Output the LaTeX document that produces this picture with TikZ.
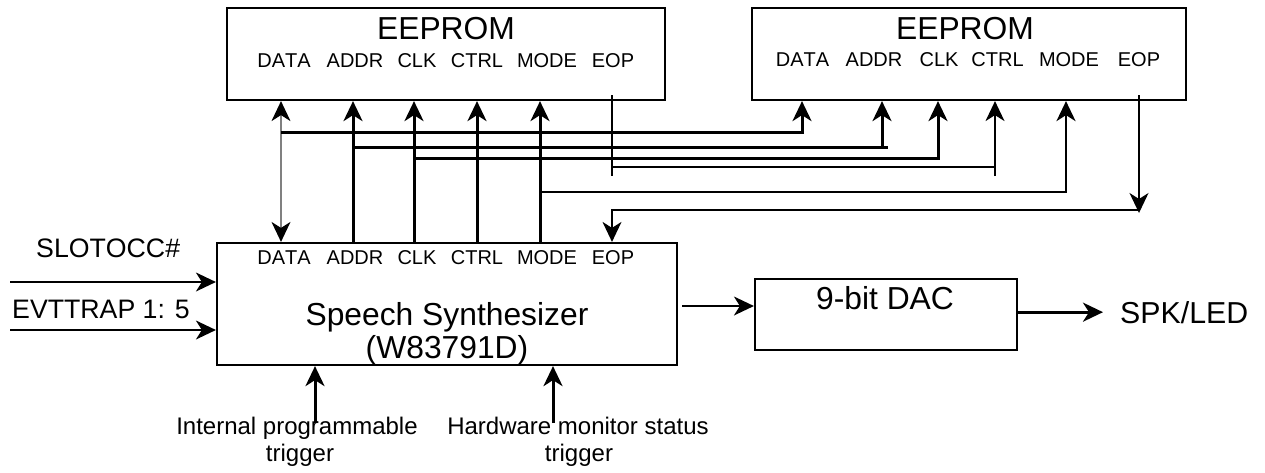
\documentclass[tikz,border=0pt]{standalone}
\usepackage{fontspec}
\setmainfont{Liberation Sans}[Kerning=Off]
\usetikzlibrary{arrows.meta}
\tikzset{
  bk/.tip={Stealth[length=20pt,width=19pt,inset=6pt,color=black]},
}
\begin{document}
\begin{tikzpicture}[x=1pt,y=-1pt,
  box/.style={draw, line width=2.2pt, inner sep=0pt},
  big/.style={font=\fontsize{31.8}{36}\selectfont, inner sep=0pt, anchor=base},
  pin/.style={font=\fontsize{20}{24}\selectfont, inner sep=0pt, anchor=base},
  side/.style={font=\fontsize{26.7}{30}\selectfont, inner sep=0pt, anchor=base west},
  trig/.style={font=\fontsize{24}{28}\selectfont, inner sep=0pt, anchor=base},
  thk/.style={line width=3pt},
  mid/.style={line width=2.6pt},
  thn/.style={line width=1.4pt},
  gline/.style={line width=1.2pt, draw=gray},
  >={Stealth[length=20pt,width=19pt,inset=6pt]},
]
\path[use as bounding box, fill=white] (0,0) rectangle (1265,472);

% boxes
\node[box, minimum width=438pt, minimum height=92pt] (ee1) at (446,54) {};
\node[box, minimum width=434pt, minimum height=92pt] (ee2) at (969,54) {};
\node[box, minimum width=460pt, minimum height=122pt] (syn) at (447,304) {};
\node[box, minimum width=262pt, minimum height=71pt] (dac) at (886,314.5) {};

% titles
\node[big] (t1) at (446,39) {EEPROM};
\node[big] (t2) at (965,39) {EEPROM};
\node[big] (s1) at (447,325) {Speech Synthesizer};
\node[big] (s2) at (447,358) {(W83791D)};
\node[big] (d1) at (885,309) {9-bit DAC};
\node[font=\fontsize{30.3}{34}\selectfont, inner sep=0pt, anchor=base west] (spk) at (1120,323) {SPK/LED};

% pin labels
\foreach \n/\x/\t in {da/284/DATA, ad/355/ADDR, cl/417/CLK, ct/477/CTRL, mo/547/MODE, eo/613/EOP}{
  \node[pin] (e1\n) at (\x,67) {\t};
  \node[pin] (sy\n) at (\x,264) {\t};
}
\foreach \n/\x/\t in {da/802.5/DATA, ad/874/ADDR, cl/939/CLK, ct/997.5/CTRL, mo/1069/MODE, eo/1139/EOP}{
  \node[pin] (e2\n) at (\x,66) {\t};
}

% side and bottom labels
\node[side] (slot) at (36,257) {SLOTOCC\#};
\node[side] (evt) at (12,318) {EVTTRAP 1: 5};
\node[trig] (ip1) at (297,434) {Internal programmable};
\node[trig] (ip2) at (300,461) {trigger};
\node[trig] (hw1) at (578,434) {Hardware monitor status};
\node[trig] (hw2) at (579,461) {trigger};

% x positions of pins
\coordinate (xd1) at (281,0);  \coordinate (xa1) at (353,0);
\coordinate (xc1) at (414,0);  \coordinate (xt1) at (477,0);
\coordinate (xm1) at (540,0);  \coordinate (xe1) at (612,0);
\coordinate (xd2) at (802,0);  \coordinate (xa2) at (882,0);
\coordinate (xc2) at (938,0);  \coordinate (xt2) at (995,0);
\coordinate (xm2) at (1066,0); \coordinate (xe2) at (1139,0);
% bus levels
\coordinate (yd) at (0,132); \coordinate (ya) at (0,147);
\coordinate (yc) at (0,158); \coordinate (yt) at (0,167);
\coordinate (yl) at (0,176); \coordinate (ym) at (0,192);
\coordinate (yr) at (0,210); \coordinate (yet) at (0,213);

% synthesizer <-> EEPROM 1
\draw[gline, bk-bk] (syn.north -| xd1) -- (ee1.south -| xd1);
\draw[thk, ->] (syn.north -| xa1) -- (ee1.south -| xa1);
\draw[thk, ->] (syn.north -| xc1) -- (ee1.south -| xc1);
\draw[thk, ->] (syn.north -| xt1) -- (ee1.south -| xt1);
\draw[thk, ->] (syn.north -| xm1) -- (ee1.south -| xm1);

% buses to EEPROM 2
\draw[thk, ->] (xd1 |- yd) -| (ee2.south -| xd2);
\draw[thk] (xa1 |- ya) -- ([xshift=6pt]xa2 |- ya);
\draw[thk, ->] (xa2 |- ya) -- (ee2.south -| xa2);
\draw[thk, ->] (xc1 |- yc) -| (ee2.south -| xc2);
\draw[thn] ([yshift=6pt]ee1.south -| xe1) -- (xe1 |- yl);
\draw[thn] (xe1 |- yt) -- (xt2 |- yt);
\draw[thn, ->] (xt2 |- yl) -- (ee2.south -| xt2);
\draw[mid, ->] (xm1 |- ym) -| (ee2.south -| xm2);
\draw[thn, ->] ([yshift=6pt]ee2.south -| xe2) -- (xe2 |- yet);
\draw[thn, ->] (xe2 |- yr) -| (syn.north -| xe1);

% inputs
\coordinate (in1) at (10,282);
\coordinate (in2) at (10,330);
\draw[thn, ->] (in1) -- (syn.west |- in1);
\draw[thn, ->] (in2) -- (syn.west |- in2);
\coordinate (tr1) at (315,423);
\coordinate (tr2) at (553,423);
\draw[thk, ->] (tr1) -- (syn.south -| tr1);
\draw[thk, ->] (tr2) -- (syn.south -| tr2);

% outputs
\coordinate (yo) at (0,306);
\draw[thn, ->, shorten <=4pt] (syn.east |- yo) -- (dac.west |- yo);
\draw[thk, ->, shorten >=17pt] (dac.east |- spk.west) -- (spk.west);
\end{tikzpicture}
\end{document}
